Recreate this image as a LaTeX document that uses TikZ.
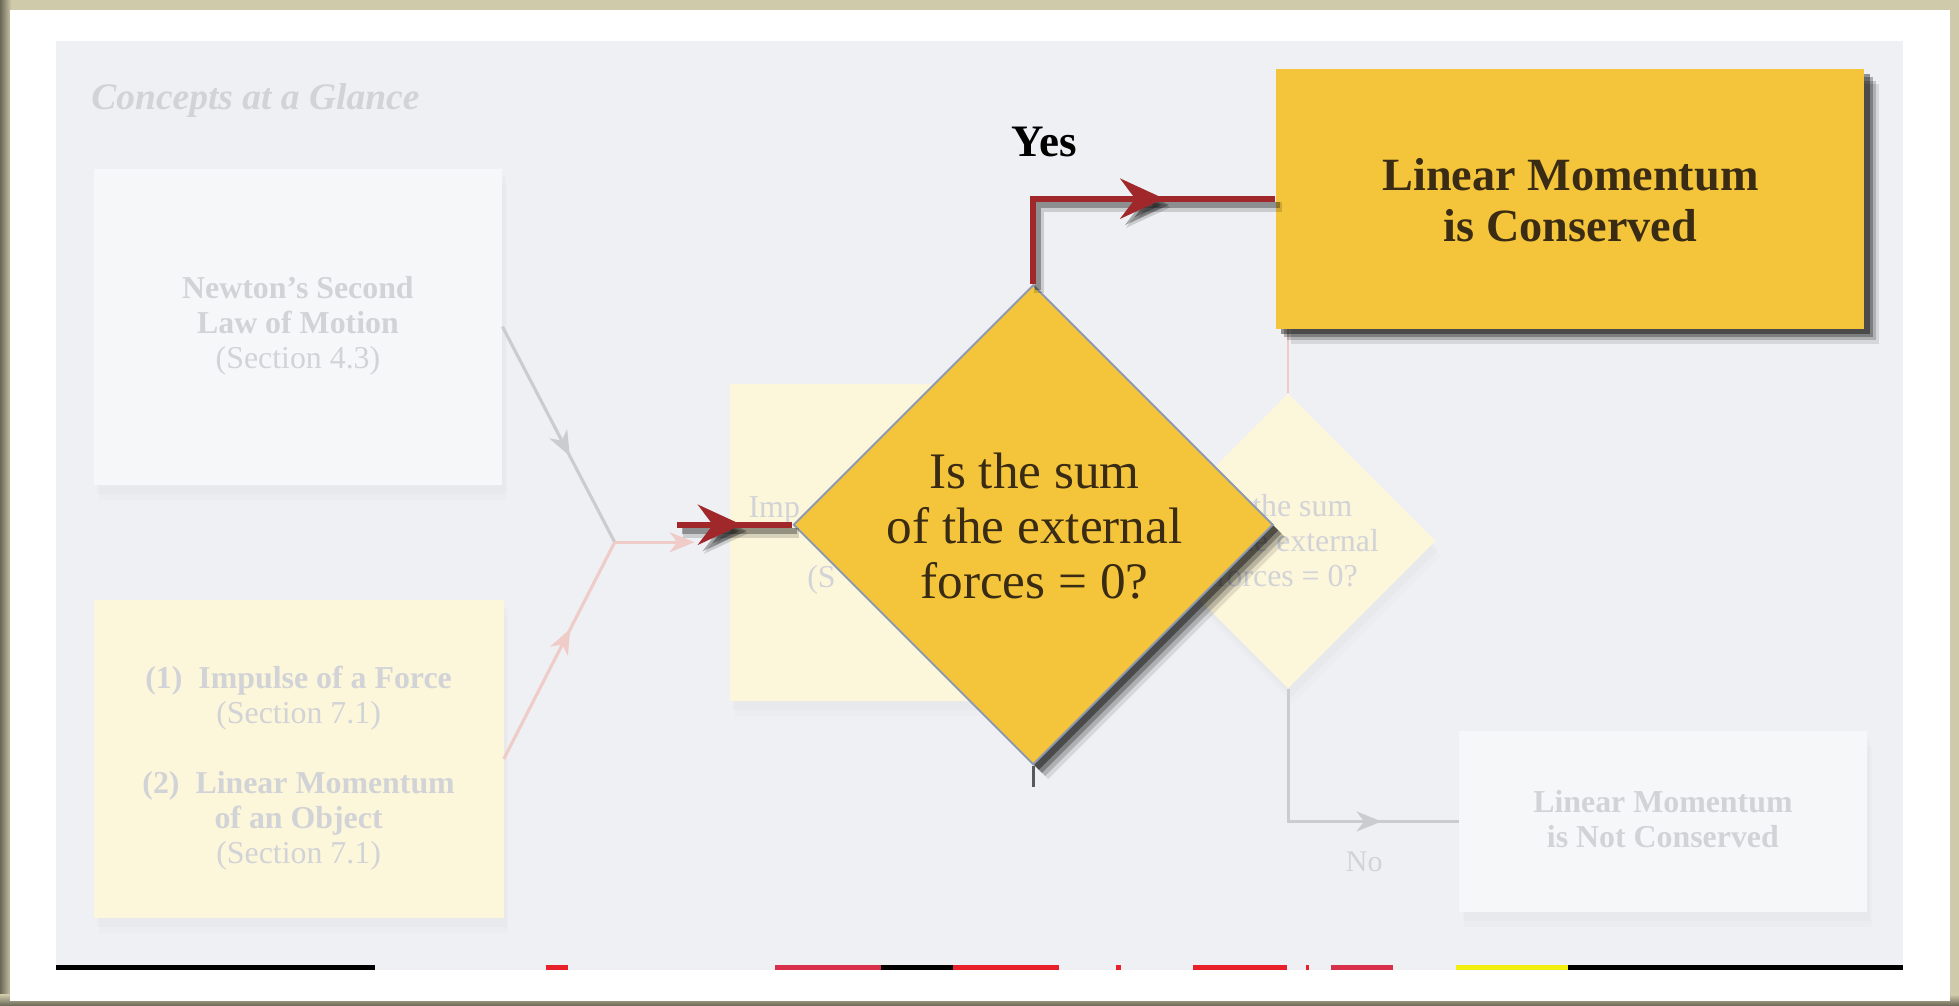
\documentclass[tikz,border=0pt]{standalone}
\usepackage{fontspec}
\setmainfont{Liberation Serif}
\usetikzlibrary{shapes.geometric,arrows.meta,decorations.markings,shadows}
\definecolor{frametan}{HTML}{CFCAA9}
\definecolor{framedark}{HTML}{6A6757}
\definecolor{panelbg}{HTML}{EEF0F3}
\definecolor{fadebox}{HTML}{F6F7F9}
\definecolor{fadeyel}{HTML}{FCF6DA}
\definecolor{fadetext}{HTML}{D2D3D7}
\definecolor{fadeline}{HTML}{CBCCD0}
\definecolor{fadepink}{HTML}{F0CCC8}
\definecolor{goldfill}{HTML}{F4C53A}
\definecolor{darktext}{HTML}{3A2B14}
\definecolor{arrowred}{HTML}{A0282A}
\definecolor{dborder}{HTML}{8F9AB0}
\definecolor{stripred}{HTML}{E8202A}
\definecolor{stripmag}{HTML}{D8304A}
\definecolor{stripyel}{HTML}{F2EE10}
\newcommand{\myfade}{\fontsize{25.5}{28}\selectfont}
\newcommand{\mybig}{\fontsize{41}{44}\selectfont}
\newcommand{\mybox}{\fontsize{37}{41}\selectfont}
\begin{document}
\begin{tikzpicture}[x=1pt,y=-1pt,
  fadeshadow/.style={
    general shadow={shadow xshift=4pt,shadow yshift=-12pt,fill=black,opacity=0.012},
    general shadow={shadow xshift=3pt,shadow yshift=-7pt,fill=black,opacity=0.015}},
  blurshadow/.style={
    general shadow={shadow xshift=12pt,shadow yshift=-12pt,fill=black,opacity=0.1},
    general shadow={shadow xshift=9.5pt,shadow yshift=-9.5pt,fill=black,opacity=0.18},
    general shadow={shadow xshift=7pt,shadow yshift=-7pt,fill=black,opacity=0.28},
    general shadow={shadow xshift=4.5pt,shadow yshift=-4.5pt,fill=black,opacity=0.4}},
  fadeboxst/.style={fill=fadebox,inner sep=0pt,fadeshadow},
  yelboxst/.style={fill=fadeyel,inner sep=0pt,fadeshadow},
  fadetxt/.style={text=fadetext,align=center,font=\myfade,inner sep=0pt},
  arrowat/.style={postaction={decorate,decoration={markings,
      mark=at position #1 with {\arrow{Stealth[length=20pt,width=16pt,inset=6pt]}}}}},
  bigarrowat/.style={postaction={decorate,decoration={markings,
      mark=at position #1 with {\arrow{Stealth[length=35pt,width=32pt,inset=12pt]}}}}},
  fadegrey/.style={color=fadeline,line width=2.5pt},
  fadepinkline/.style={color=fadepink,line width=2.5pt},
  redline/.style={color=arrowred,line width=5pt},
  redshadowa/.style={color=black,opacity=0.15,line width=8pt,transform canvas={shift={(5,7)}}},
  redshadowb/.style={color=black,opacity=0.3,line width=5pt,transform canvas={shift={(4,5)}}}
]
\useasboundingbox (0,0) rectangle (1568,805);
% frame
\fill[frametan] (0,0) rectangle (1568,805);
\shade[left color=framedark,right color=frametan] (0,0) rectangle (9,805);
\shade[top color=frametan,bottom color=framedark] (0,796) rectangle (1568,805);
\fill[white] (8,8) rectangle (1561,801);
\fill[panelbg] (45,33) rectangle (1523,776);
% scan strip
\fill[black] (45,772) rectangle (300,776);
\fill[stripred] (437,772) rectangle (455,776);
\fill[stripmag] (620,772) rectangle (705,776);
\fill[black] (705,772) rectangle (763,776);
\fill[stripred] (763,772) rectangle (848,776);
\fill[stripred] (893,772) rectangle (897,776);
\fill[stripred] (955,772) rectangle (1030,776);
\fill[stripred] (1045,772) rectangle (1048,776);
\fill[stripmag] (1065,772) rectangle (1115,776);
\fill[stripyel] (1165,772) rectangle (1255,776);
\fill[black] (1255,772) rectangle (1523,776);

% faded background diagram
\node[anchor=base west,text=fadetext,font=\fontsize{30}{33}\selectfont\bfseries\itshape,inner sep=0pt] (title) at (73,88) {Concepts at a Glance};
\node[fadeboxst,minimum width=327pt,minimum height=253pt] (newton) at (238.5,261.5) {};
\node[fadetxt] (newtontxt) at (238.5,261) {\textbf{Newton’s Second}\\\textbf{Law of Motion}\\(Section 4.3)};
\node[yelboxst,minimum width=328pt,minimum height=255pt] (impulse) at (239,607.5) {};
\node[fadetxt] (impulsetxt) at (239,615) {\textbf{(1)\ \ Impulse of a Force}\\(Section 7.1)\\[28pt]\textbf{(2)\ \ Linear Momentum}\\\textbf{of an Object}\\(Section 7.1)};
\node[yelboxst,minimum width=248pt,minimum height=254pt] (midbox) at (708,434) {};
\node[fadetxt,anchor=base west] (midtxta) at (599,414) {Imp};
\node[fadetxt,anchor=base west] (midtxtb) at (646,470) {(S};
\coordinate (J) at (492,434);
\coordinate (pinkend) at (556,434);
\draw[fadegrey,arrowat=0.6] (newton.east) -- (J);
\draw[fadepinkline,arrowat=0.6] (impulse.east) -- (J);
\draw[fadepinkline,-{Stealth[length=20pt,width=16pt,inset=6pt]}] (J) -- (pinkend);

\node[diamond,aspect=1,fill=fadeyel,minimum width=236pt,minimum height=236pt,inner sep=0pt,fadeshadow] (fdia) at (1031,433) {};
\node[fadetxt] (fdiatxt) at (1030,433) {Is the sum\\of the external\\forces = 0?};
\node[fadeboxst,minimum width=326pt,minimum height=145pt] (nobox) at (1331,657.5) {};
\node[fadetxt] (notxt) at (1331,656) {\textbf{Linear Momentum}\\\textbf{is Not Conserved}};
\draw[color=fadepink,line width=1.5pt] (fdia.north |- 1031,263) -- (fdia.north);
\draw[fadegrey,arrowat=0.745] (fdia.south) |- (nobox.west);
\node[fadetxt,font=\fontsize{24}{26}\selectfont] (nolabel) at (1092,690) {No};

% highlighted elements
\node[fill=goldfill,minimum width=471pt,minimum height=208pt,inner sep=0pt,blurshadow] (yesbox) at (1256.5,159) {};
\node[text=darktext,font=\mybox\bfseries,align=center,inner sep=0pt] (yestxt) at (1257,160) {Linear Momentum\\is Conserved};
\node[diamond,aspect=1,fill=goldfill,draw=dborder,line width=1.5pt,minimum width=384pt,minimum height=384pt,inner sep=0pt,blurshadow] (dia) at (827,420) {};
\node[text=darktext,font=\mybig,align=center,inner sep=0pt] (diatxt) at (828,421) {Is the sum\\of the external\\forces = 0?};
\coordinate (stub) at (827,630);
\draw[color=black!65,line width=2.5pt] (dia.south) -- (stub);

\coordinate (redstart) at (542,420);
\draw[redshadowa,bigarrowat=0.56] (redstart) -- (dia.west);
\draw[redshadowb,bigarrowat=0.56] (redstart) -- (dia.west);
\draw[redline,bigarrowat=0.56] (redstart) -- (dia.west);
\draw[redshadowa,bigarrowat=0.66] (dia.north) |- (yesbox.west);
\draw[redshadowb,bigarrowat=0.66] (dia.north) |- (yesbox.west);
\draw[redline,bigarrowat=0.66] (dia.north) |- (yesbox.west);
\node[font=\fontsize{36}{40}\selectfont\bfseries,text=black,inner sep=0pt] (yeslabel) at (836,114) {Yes};
\end{tikzpicture}
\end{document}
